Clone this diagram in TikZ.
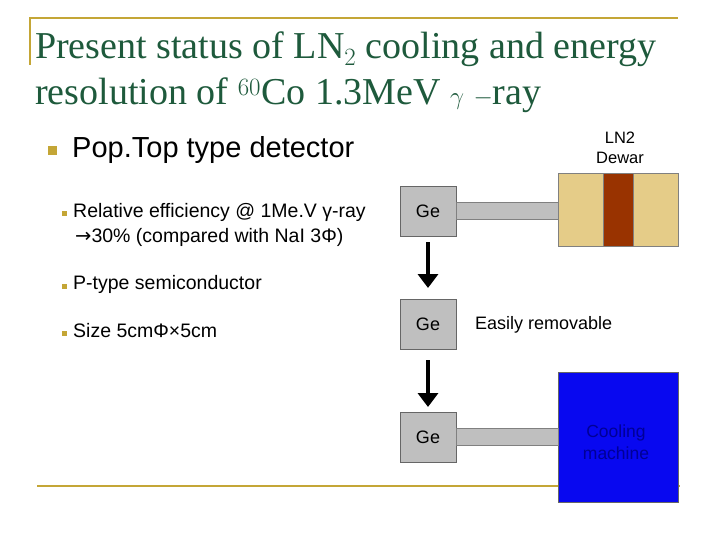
\documentclass[tikz,border=0pt]{standalone}
\usepackage{fontspec}
\setmainfont{Liberation Serif}
\setsansfont{Liberation Sans}
\newfontfamily\dejavu{DejaVu Sans}
\begin{document}
\begin{tikzpicture}[x=1pt,y=-1pt,
  gebox/.style={draw=black!60,fill=black!25,minimum width=56pt,minimum height=50pt,inner sep=0pt,font=\sffamily\fontsize{18}{18}\selectfont},
  rod/.style={draw=black!50,fill=black!25},
  bigarrow/.style={line width=4pt,-{Triangle[length=14pt,width=20pt]}},
  txt/.style={anchor=west,inner sep=0pt,font=\sffamily\fontsize{19.5}{19.5}\selectfont},
  sq/.style={fill=gold,minimum size=5pt,inner sep=0pt}]
\usetikzlibrary{arrows.meta}
\definecolor{gold}{HTML}{C4A636}
\definecolor{ttl}{HTML}{1E5A3C}
\definecolor{tan}{HTML}{E5CC88}
\definecolor{rust}{HTML}{993300}
\path[use as bounding box,fill=white] (0,0) rectangle (720,540);
% frame lines
\draw[gold,line width=2pt] (30,65) -- (30,18) coordinate(tl) -- (678,18);
\draw[gold,line width=2pt] (37,486) -- (680,486);
% title
\node[anchor=west,inner sep=0pt,text=ttl,font=\fontsize{38}{38}\selectfont] (t1) at (35,49) {Present status of LN$_2$ cooling and energy};
\node[anchor=west,inner sep=0pt,text=ttl,font=\fontsize{38}{38}\selectfont] (t2) at (35,95) {resolution of $^{60}$Co 1.3MeV $\gamma$ $-$ray};
% bullets
\node[sq,minimum size=9pt] (b0) at (52,151) {};
\node[txt,font=\sffamily\fontsize{29}{29}\selectfont] (h) at (72,150) {Pop.Top type detector};
\node[sq] (b1) at (64,214) {};
\node[txt] (r1) at (73,212) {Relative efficiency @ 1Me.V γ-ray};
\node[txt] (r2) at (75,237) {{\dejavu →}30\% (compared with NaI 3Φ)};
\node[sq] (b2) at (64,286) {};
\node[txt] (r3) at (73,284) {P-type semiconductor};
\node[sq] (b3) at (64,333) {};
\node[txt] (r4) at (73,331) {Size 5cmΦ×5cm};
% dewar
\node[draw=black!50,fill=tan,minimum width=120pt,minimum height=73pt,inner sep=0pt] (dw) at (618,209.5) {};
\node[fill=rust,draw=black!50,minimum width=30pt,minimum height=73pt,inner sep=0pt] (dm) at (618,209.5) {};
\node[align=center,font=\sffamily\fontsize{16.5}{20}\selectfont] (dl) at (620,148) {LN2\\Dewar};
% cooling machine
\node[draw=black!60,fill={rgb,255:red,8;green,8;blue,240},minimum width=120pt,minimum height=130pt,inner sep=0pt] (cm) at (618,437) {};
\node[align=center,text={rgb,255:red,0;green,0;blue,150},font=\sffamily\fontsize{17.5}{22}\selectfont] (cml) at (616,442) {Cooling\\machine};
% Ge boxes
\node[gebox] (g1) at (428,211) {Ge};
\node[gebox] (g2) at (428,324) {Ge};
\node[gebox] (g3) at (428,437) {Ge};
\draw[rod] (g1.east |- 0,202) rectangle (dw.west |- 0,219);
\draw[rod] (g3.east |- 0,428) rectangle (cm.west |- 0,445);
\node[txt,font=\sffamily\fontsize{18}{18}\selectfont] (er) at (475,325) {Easily removable};
\draw[bigarrow] (428,242) -- (428,288);
\draw[bigarrow] (428,360) -- (428,407);
\end{tikzpicture}
\end{document}
